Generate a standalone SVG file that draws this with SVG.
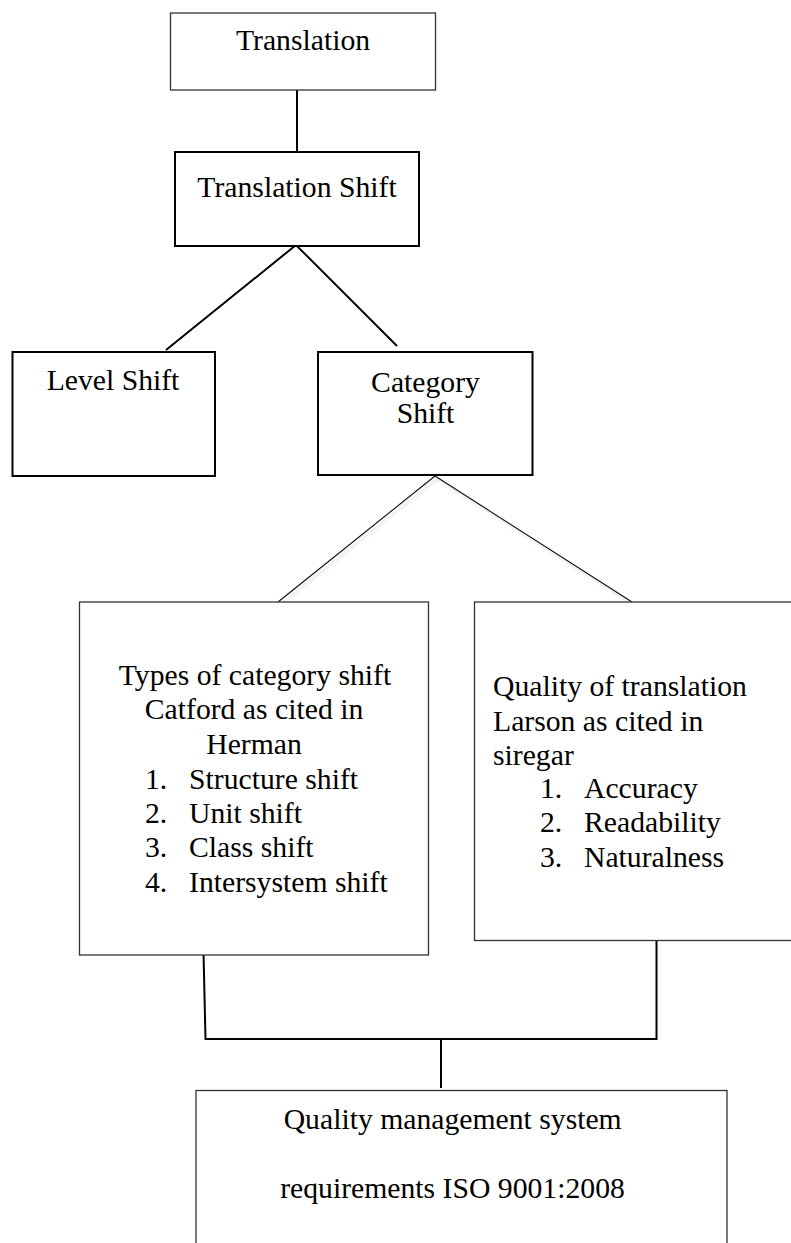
<svg xmlns="http://www.w3.org/2000/svg" width="791" height="1243" viewBox="0 0 791 1243">
<style>
text{font-family:"Liberation Serif","Times New Roman",serif;font-size:29.7px;fill:#000}
.c{text-anchor:middle}
.box{fill:#fff;stroke:#000;stroke-width:2}
.thin{fill:#fff;stroke:#333;stroke-width:1.3}
.ln{stroke:#000;stroke-width:2;fill:none}
.ln2{stroke:#111;stroke-width:1.1;fill:none;filter:url(#sh)}
</style>
<defs>
<filter id="sh" x="-20%" y="-20%" width="140%" height="140%">
<feDropShadow dx="2" dy="3" stdDeviation="1.5" flood-color="#000" flood-opacity="0.18"/>
</filter>
</defs>
<g id="connectors">
<line class="ln" x1="297" y1="88" x2="297" y2="152"/>
<polyline class="ln" points="166,350 296,245 397,346"/>
<polyline class="ln2" points="278,602 435,476 632,602"/>
<polyline class="ln" points="203.5,952 205.5,1039 656.5,1039 656.5,940"/>
<line class="ln" x1="441" y1="1039" x2="441" y2="1088"/>
</g>
<g id="translation">
<rect x="170.5" y="13" width="265" height="77" fill="#fff" stroke="#333" stroke-width="1.3"/>
<text class="c" x="303" y="50">Translation</text>
</g>
<g id="translation-shift">
<rect class="box" x="175" y="152" width="244" height="94"/>
<text class="c" x="297" y="197">Translation Shift</text>
</g>
<g id="level-shift">
<rect class="box" x="12.5" y="352" width="202.5" height="124"/>
<text class="c" x="113" y="390">Level Shift</text>
</g>
<g id="category-shift">
<rect class="box" x="318" y="352" width="214.5" height="123"/>
<text class="c" x="425.5" y="392">Category</text>
<text class="c" x="425.5" y="423">Shift</text>
</g>
<g id="types-of-category-shift">
<rect class="thin" x="79.5" y="602" width="349" height="353"/>
<text class="c" x="255" y="685">Types of category shift</text>
<text class="c" x="254" y="719">Catford as cited in</text>
<text class="c" x="254" y="754">Herman</text>
<text x="145" y="789">1.</text><text x="189" y="789">Structure shift</text>
<text x="145" y="823">2.</text><text x="189" y="823">Unit shift</text>
<text x="145" y="857">3.</text><text x="189" y="857">Class shift</text>
<text x="145" y="892">4.</text><text x="189" y="892">Intersystem shift</text>
</g>
<g id="quality-of-translation">
<rect class="thin" x="474.5" y="602" width="330" height="338.5"/>
<text x="493" y="696">Quality of translation</text>
<text x="493" y="731">Larson as cited in</text>
<text x="493" y="765">siregar</text>
<text x="540" y="798">1.</text><text x="584" y="798">Accuracy</text>
<text x="540" y="832">2.</text><text x="584" y="832">Readability</text>
<text x="540" y="867">3.</text><text x="584" y="867">Naturalness</text>
</g>
<g id="quality-management">
<rect class="thin" x="196" y="1090.5" width="531" height="170"/>
<text class="c" x="452.7" y="1129">Quality management system</text>
<text class="c" x="452.5" y="1198">requirements ISO 9001:2008</text>
</g>
</svg>
